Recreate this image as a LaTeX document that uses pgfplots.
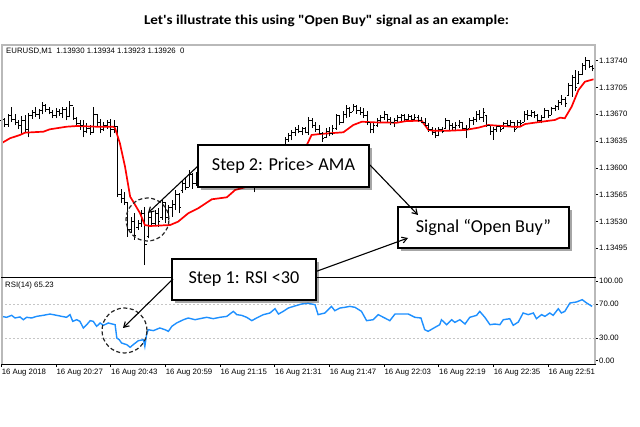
\documentclass[border=0pt]{standalone}
\usepackage{fontspec}
\setmainfont{Carlito}
\newfontfamily\calwide{Carlito}[FakeStretch=1.12]
\newfontfamily\mt{Liberation Sans}
\usepackage{pgfplots}
\pgfplotsset{compat=1.18}
\usepackage{pgfplotstable}
\usetikzlibrary{arrows.meta,shadows}
\definecolor{amared}{HTML}{FF0000}
\definecolor{rsiblue}{HTML}{1E90FF}
\pgfdeclareplotmark{otick}{\pgfpathmoveto{\pgfqpoint{-1.7pt}{0pt}}\pgfpathlineto{\pgfqpoint{0pt}{0pt}}\pgfusepathqstroke}
\pgfdeclareplotmark{ctick}{\pgfpathmoveto{\pgfqpoint{0pt}{0pt}}\pgfpathlineto{\pgfqpoint{1.7pt}{0pt}}\pgfusepathqstroke}
% price in units of 0.00001 above 1.13000
\pgfplotstableread{
i H L O C
0 667 658 662 664
1 665 654 664 657
2 671 654 657 668
3 680 660 668 663
4 670 656 663 660
5 663 651 660 655
6 668 643 655 662
7 669 645 662 650
8 672 640 650 668
9 676 664 668 673
10 679 667 673 670
11 677 664 670 675
12 686 670 675 682
13 683 673 682 676
14 680 670 676 672
15 676 665 672 668
16 678 665 668 674
17 677 668 674 671
18 680 665 671 677
19 680 662 677 667
20 687 666 667 681
21 680 663 681 665
22 667 654 665 658
23 663 650 658 656
24 662 640 656 648
25 659 645 648 652
26 656 643 652 647
27 679 647 647 670
28 671 655 670 660
29 664 645 660 650
30 660 648 650 655
31 662 651 655 660
32 664 640 660 650
33 662 645 650 654
34 654 562 654 565
35 573 554 565 560
36 569 552 560 555
37 554 510 555 520
38 536 515 520 530
39 541 506 530 512
40 532 519 522 528
41 545 523 528 540
42 549 473 540 500
43 542 508 510 535
44 543 523 535 528
45 545 525 528 540
46 547 523 540 530
47 560 532 535 555
48 556 528 555 535
49 552 532 535 548
50 558 536 548 552
51 571 545 552 565
52 567 541 565 548
53 584 567 570 580
54 588 571 580 575
55 597 575 575 592
56 593 573 592 580
57 595 577 580 590
58 598 574 590 578
59 603 582 582 598
60 608 588 598 602
61 605 585 602 590
62 610 590 590 605
63 612 593 605 598
64 615 595 598 610
65 613 592 610 596
66 618 598 596 612
67 620 600 612 605
68 622 602 605 618
69 619 598 618 602
70 624 603 602 620
71 626 606 620 610
72 623 600 610 605
73 620 585 605 590
74 605 568 590 595
75 612 590 595 608
76 620 598 608 612
77 625 605 612 620
78 628 610 620 615
79 628 610 615 622
80 627 612 622 618
81 628 615 618 625
82 629 617 625 620
83 640 627 627 637
84 645 634 637 642
85 650 636 642 646
86 654 642 646 650
87 656 645 650 648
88 654 643 648 652
89 654 645 652 647
90 667 643 647 662
91 665 652 662 655
92 660 647 655 650
93 656 643 650 645
94 647 634 645 638
95 652 639 640 648
96 654 641 648 645
97 656 643 645 652
98 671 650 652 668
99 669 656 668 660
100 674 658 660 670
101 682 665 670 678
102 680 667 678 672
103 684 674 674 680
104 682 671 680 675
105 680 669 675 672
106 678 665 672 668
107 674 656 668 660
108 660 645 660 650
109 658 645 650 655
110 665 654 655 662
111 669 658 662 666
112 674 663 666 670
113 671 660 670 664
114 667 656 664 660
115 665 654 660 662
116 669 658 662 666
117 671 660 666 668
118 670 661 668 664
119 670 661 664 667
120 669 660 667 663
121 670 661 663 666
122 669 660 666 662
123 667 658 662 660
124 665 654 660 656
125 658 647 656 650
126 654 643 650 646
127 652 639 646 642
128 654 641 642 650
129 654 645 650 648
130 665 652 652 662
131 663 650 662 655
132 658 650 655 653
133 660 650 653 656
134 663 652 656 660
135 660 650 660 652
136 656 639 652 650
137 665 652 652 662
138 667 656 662 664
139 674 660 664 670
140 676 663 670 666
141 678 660 666 672
142 669 654 668 656
143 656 643 656 648
144 654 637 648 650
145 656 647 650 654
146 656 647 654 650
147 660 652 652 658
148 662 654 658 656
149 662 654 656 660
150 660 647 660 650
151 663 652 652 660
152 663 654 660 658
153 674 660 660 670
154 676 663 670 668
155 676 667 668 672
156 674 665 672 668
157 671 660 668 662
158 669 658 662 666
159 678 665 666 675
160 676 665 675 668
161 680 669 669 678
162 682 674 678 680
163 689 676 680 686
164 695 682 686 690
165 693 680 690 684
166 711 695 695 708
167 721 693 708 718
168 728 700 718 705
169 726 711 711 722
170 737 721 722 734
171 745 728 734 740
172 741 730 740 733
173 734 726 733 730
}\bars
\pgfplotstableread{
x p
0 632.1
2.54 638.7
5.46 643
6.93 646
12.3 647.3
14.2 650.4
19.1 653.8
22.1 654.7
27.9 653.8
32.8 653.8
33.3 651.7
34.7 632.1
36.2 601.6
37.7 562.4
38.6 555.9
40.6 540.7
42.0 525.4
43.5 524.1
49.4 525.4
51.7 529.7
54.7 540.7
57.6 547.2
61.6 559
66.0 561.6
68.4 571.1
71.3 574.7
75.7 580.3
83.0 603.8
87.4 620.8
89.4 629.9
90.8 643
93.3 644.3
100.1 646.5
103.0 656
105.5 660.3
108.9 659.5
115.7 659
118.6 661.2
123.0 661.6
125.0 649.5
126.4 648.6
131.3 648.6
135.7 649.5
139.6 652.5
142.5 656
149.4 653.8
151.8 653.8
153.3 657.3
158.1 660.3
162.0 662.6
163.5 665.6
164.9 664.8
166.9 679.9
168.9 701.7
170.8 712.6
173.3 715.7
}\ama
\pgfplotstableread{
x r
0 55.4
1.56 54.3
3.02 56.6
4.0 53.5
5.46 54.7
6.44 51.5
7.41 54.3
8.88 53.5
10.34 55.4
12.29 56.6
14.24 58.1
16.2 56.6
17.66 55.4
19.1 54.3
20.1 57.4
20.9 49.6
22.05 51.5
23.0 49.6
24.0 41.9
25.0 45.7
26.0 50.4
26.9 49.6
27.9 43.8
28.9 47.7
29.9 45
31.3 47.7
33.3 45.7
33.8 30.2
34.5 28.3
35.2 24.4
36.7 22.5
37.7 19.4
38.6 22.5
40.1 27.1
41.6 28.3
42.0 20.5
42.5 34.1
43.0 39.9
44.5 38.8
46.4 41.9
47.9 39.9
48.9 38
49.9 43.8
51.3 47.7
53.3 51.5
54.7 53.5
56.7 51.5
58.1 52.7
60.1 54.3
62.0 52.7
64.0 54.3
66.0 55.4
67.9 61.2
68.9 57.4
70.3 56.6
71.8 54.3
73.3 50.4
74.7 53.5
76.7 57.4
78.6 59.3
80.1 64.3
81.1 58.1
82.5 61.2
84.0 65.1
85.5 67
87.9 69.8
89.8 70.5
91.8 69
92.7 57.4
94.7 59.3
96.6 67
97.6 62
99.1 65.1
100.5 65.9
102 67
103.5 65.9
105.4 61.2
106.9 50.4
108.8 51.5
110.3 57.4
112.2 53.5
113.7 50.4
115.2 58.1
119.1 58.1
121 54.3
122.8 53.5
123.9 39.9
124.9 38
126.9 42.6
128.3 45.7
128.8 51.5
130.3 45.7
131.8 51.5
132.7 48.4
134.2 51.5
135.7 46.5
137.1 54.3
139.1 56.6
140.0 61.2
141.5 54.3
143 45.7
144.4 46.5
145.9 45.7
146.9 51.5
148.8 52.7
149.8 45
151.3 48.8
152.7 59.3
154.2 57.4
155.7 59.3
156.6 52.7
158.1 57.4
159.1 55.4
160.5 59.3
161.5 56.6
163 64.3
163.9 59.3
164.9 61.2
166.4 70.9
168.3 72.1
170 74.8
171.3 70.9
172.9 67
}\rsi
\begin{document}
\begin{tikzpicture}
\fill[white] (0pt,0pt) rectangle (640pt,426pt);
\path[use as bounding box] (0pt,0pt) rectangle (640pt,426pt);
% price panel
\begin{axis}[at={(1.33pt,149pt)}, anchor=south west, scale only axis,
  width=593.67pt, height=232pt,
  xmin=0, xmax=173.74, ymin=457.5, ymax=760.5,
  axis line style={draw=none},
  xtick=\empty,
  ytick={495,530,565,600,635,670,705,740},
  yticklabels={1.13495,1.13530,1.13565,1.13600,1.13635,1.13670,1.13705,1.13740},
  ytick pos=right, yticklabel pos=right, tick align=outside,
  major tick length=3pt, tick style={black,line width=0.6pt},
  yticklabel style={font=\mt\fontsize{7.8}{9}\selectfont, anchor=west, inner sep=0pt, xshift=1pt},
]
\addplot[draw=none, mark=none, forget plot,
  error bars/.cd, y dir=plus, y explicit, error mark=none,
  error bar style={black, line width=0.75pt}]
  table[x=i, y=L, y error plus expr=\thisrow{H}-\thisrow{L}] {\bars};
\addplot[only marks, mark=otick, mark options={black, line width=0.75pt}] table[x=i, y=O] {\bars};
\addplot[only marks, mark=ctick, mark options={black, line width=0.75pt}] table[x=i, y=C] {\bars};
\addplot[amared, line width=1.7pt, mark=none] table[x=x, y=p] {\ama};
\end{axis}
% RSI panel
\begin{axis}[at={(1.33pt,62pt)}, anchor=south west, scale only axis,
  width=593.67pt, height=86pt,
  xmin=0, xmax=173.74, ymin=0, ymax=100,
  axis line style={draw=none},
  xtick={0,16,32,48,64,80,96,112,128,144,160},
  xticklabels={16 Aug 2018,16 Aug 20:27,16 Aug 20:43,16 Aug 20:59,16 Aug 21:15,16 Aug 21:31,16 Aug 21:47,16 Aug 22:03,16 Aug 22:19,16 Aug 22:35,16 Aug 22:51},
  ytick={3.8,30,70,96.5},
  yticklabels={0.00,30.00,70.00,100.00},
  ytick pos=right, yticklabel pos=right, xtick pos=bottom, tick align=outside,
  major tick length=3pt, tick style={black,line width=0.6pt},
  yticklabel style={font=\mt\fontsize{7.8}{9}\selectfont, anchor=west, inner sep=0pt, xshift=1pt},
  xticklabel style={font=\mt\fontsize{7.8}{9}\selectfont, anchor=north west, inner sep=0pt, xshift=0.3pt, yshift=-2pt},
]
\addplot[gray!45, line width=0.6pt, dash pattern=on 2pt off 2pt] coordinates {(0,30) (173.74,30)};
\addplot[gray!45, line width=0.6pt, dash pattern=on 2pt off 2pt] coordinates {(0,70) (173.74,70)};
\addplot[rsiblue, line width=1.4pt, mark=none] table[x=x, y=r] {\rsi};
\end{axis}
% frames
\draw[gray!55, line width=1.6pt] (2pt,149pt) -- (2pt,381pt) -- (595pt,381pt) -- (595pt,149pt);
\draw[gray!55, line width=1.2pt] (2pt,62pt) -- (2pt,148pt);
\draw[gray!55, line width=1.2pt] (595pt,62pt) -- (595pt,148pt);
\draw[black, line width=1.6pt] (1pt,148.5pt) -- (596pt,148.5pt);
\draw[black, line width=0.9pt] (1pt,62pt) -- (596pt,62pt);
% headers
\node[anchor=west, inner sep=0pt, font=\mt\fontsize{7.8}{9}\selectfont] at (6pt,375pt) {EURUSD,M1\ \ 1.13930 1.13934 1.13923 1.13926\ \ 0};
\node[anchor=west, inner sep=0pt, font=\mt\fontsize{7.8}{9}\selectfont] at (5pt,141pt) {RSI(14) 65.23};
\node[anchor=base, inner sep=0pt, font=\calwide\bfseries\fontsize{13.5}{15}\selectfont] at (326.5pt,401pt) {Let's illustrate this using "Open Buy" signal as an example:};
% circles
\draw[black!85, line width=1.2pt, dash pattern=on 4pt off 2.5pt] (147.5pt,206.5pt) circle (21.5pt);
\draw[black!85, line width=1.2pt, dash pattern=on 4pt off 2.5pt] (124.5pt,95.5pt) circle (22.5pt);
% boxes
\tikzset{box/.style={draw=black, line width=1.4pt, fill=white, inner sep=0pt,
  drop shadow={shadow xshift=3pt, shadow yshift=-3pt, opacity=0.35, fill=black},
  font=\fontsize{18.2}{20}\selectfont}}
\node[box, minimum width=171pt, minimum height=42pt] at (283.5pt,260pt) {Step 2: Price> AMA};
\node[box, minimum width=171pt, minimum height=41pt] at (483.5pt,198.5pt) {Signal “Open Buy”};
\node[box, minimum width=144pt, minimum height=41pt] at (244pt,146.5pt) {Step 1: RSI <30};
% arrows (drawn over the boxes, as in the reference)
\draw[black, line width=1.1pt, -{Straight Barb[length=5pt,width=6pt]}] (198pt,260pt) -- (148pt,213pt);
\draw[black, line width=1.1pt, -{Straight Barb[length=5pt,width=6pt]}] (370pt,261pt) -- (418pt,211pt);
\draw[black, line width=1.1pt, -{Straight Barb[length=5pt,width=6pt]}] (316pt,154.5pt) -- (408pt,188pt);
\draw[black, line width=1.1pt, -{Straight Barb[length=5pt,width=6pt]}] (173pt,147pt) -- (123pt,98pt);
\end{tikzpicture}
\end{document}
